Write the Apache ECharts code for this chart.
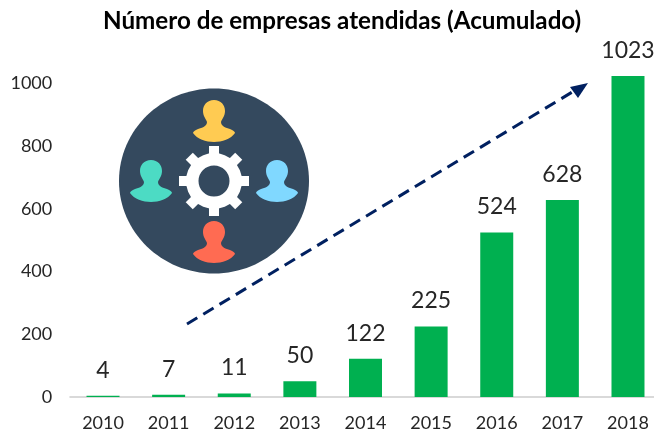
<!DOCTYPE html>
<html>
<head>
<meta charset="utf-8">
<style>html,body{margin:0;padding:0;background:#fff}#c{width:654px;height:434px}</style>
<script src="https://cdn.jsdelivr.net/npm/echarts@6/dist/echarts.min.js"></script>
</head>
<body>
<div id="c"></div>
<script>
const categories = ['2010','2011','2012','2013','2014','2015','2016','2017','2018'];
const empresas = [4,7,11,50,122,225,524,628,1023];
const titleText = 'Número de empresas atendidas (Acumulado)';
const FONT = 'Lato';

echarts.graphic.registerShape('person', echarts.graphic.extendShape({
  shape:{cx:0, top:0},
  buildPath(ctx, s){
    const X = v => s.cx + v, Y = v => s.top + v;
    ctx.moveTo(X(0),Y(0));
    const c = (a,b,d,e,f,g) => ctx.bezierCurveTo(X(a),Y(b),X(d),Y(e),X(f),Y(g));
    c(7,0,11,5,11,11); c(11,16,8,19,7,22); c(7,26,12,28,16,29); c(19,30,21,32,21,33);
    c(17,39,8,42,0,42); c(-8,42,-17,39,-21,33); c(-21,32,-19,30,-16,29); c(-12,28,-7,26,-7,22);
    c(-8,19,-11,16,-11,11); c(-11,5,-7,0,0,0);
    ctx.closePath();
  }
}));
function person(cx, top, color){
  return {type:'person', silent:true, z:10, shape:{cx:cx, top:top}, style:{fill:color}};
}
const graphics = [
  {type:'ellipse', silent:true, z:9, shape:{cx:214, cy:181, rx:95, ry:92.5}, style:{fill:'#34495E'}},
  person(214,100,'#FFCB52'),
  person(214,221,'#FF6B52'),
  person(151,160,'#4CDBC4'),
  person(277,160,'#80D8FF'),
  {type:'ring', silent:true, z:10, shape:{cx:214, cy:181, r:28, r0:15.5}, style:{fill:'#fff'}}
];
for (let k=0;k<8;k++){
  graphics.push({type:'rect', silent:true, z:10, x:214, y:181, rotation:k*Math.PI/4,
    shape:{x:-5,y:-35,width:10,height:10}, style:{fill:'#fff'}});
}
graphics.push(
  {type:'line', silent:true, z:11, shape:{x1:187,y1:324,x2:574,y2:91},
   style:{stroke:'#002060', lineWidth:3, lineDash:[12,7]}},
  {type:'polygon', silent:true, z:11, shape:{points:[[588,83],[570,87],[578,98]]}, style:{fill:'#002060'}}
);

const chart = echarts.init(document.getElementById('c'), null, {renderer:'canvas'});
chart.setOption({
  animation:false,
  backgroundColor:'#fff',
  title:{text:titleText, left:98, top:4, textStyle:{fontFamily:FONT, fontSize:24.2, fontWeight:'bold', color:'#000'}},
  grid:{left:70.2, width:590.6, top:20.4, height:376.6, containLabel:false, outerBoundsMode:'none'},
  xAxis:{type:'category', data:categories,
    axisTick:{show:false},
    axisLine:{lineStyle:{color:'#D9D9D9', width:2}},
    axisLabel:{fontFamily:FONT, fontSize:18, color:'#262626', margin:17}},
  yAxis:{type:'value', min:0, max:1200, interval:200,
    splitLine:{show:false}, axisLine:{show:false}, axisTick:{show:false},
    axisLabel:{fontFamily:FONT, fontSize:18, color:'#262626', showMaxLabel:false, margin:18,
      formatter:v => String(v)}},
  series:[{type:'bar', data:empresas, barWidth:33,
    itemStyle:{color:'#00B050'},
    label:{show:true, position:'top', distance:14, fontFamily:FONT, fontSize:23, color:'#262626'}}],
  graphic:graphics
});
</script>
</body>
</html>
